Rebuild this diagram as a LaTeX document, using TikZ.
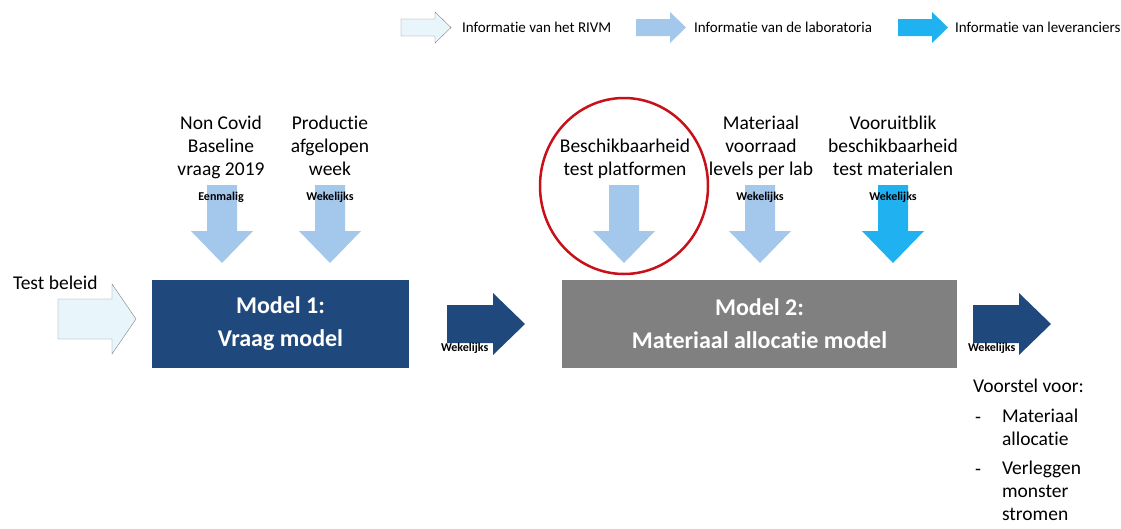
\documentclass[tikz,border=0pt]{standalone}
\usepackage{fontspec}
\setmainfont[Ligatures=NoCommon]{Carlito}
\usetikzlibrary{positioning}

\definecolor{vraagblue}{RGB}{31,73,125}
\definecolor{allocgray}{RGB}{128,128,128}
\definecolor{labblue}{RGB}{164,199,236}
\definecolor{levblue}{RGB}{32,178,240}
\definecolor{rivmfill}{RGB}{232,246,252}
\definecolor{ringred}{RGB}{200,16,24}

\tikzset{
  pics/downarrow/.style={code={
    \path[pic actions] (-15,0) -- (15,0) -- (15,46) -- (31,46) -- (0,78)
      -- (-31,46) -- (-15,46) -- cycle;
  }},
  pics/rightarrow/.style={code={
    \path[pic actions] (0,-19) -- (46,-19) -- (46,-31) -- (78,0) -- (46,31)
      -- (46,19) -- (0,19) -- cycle;
  }},
  pics/keyarrow/.style={code={
    \path[pic actions] (0,-8.5) -- (34,-8.5) -- (34,-15.5) -- (50,0) -- (34,15.5)
      -- (34,8.5) -- (0,8.5) -- cycle;
  }},
}

\begin{document}
\begin{tikzpicture}[x=1pt, y=-1pt
        , every node/.style={inner sep=0pt, outer sep=0pt}
        , bigtext/.style={font=\fontsize{19.5}{23}\selectfont, align=center}
        , freq/.style={font=\fontsize{12}{14}\selectfont\bfseries}
        , keytext/.style={font=\fontsize{15}{17}\selectfont, anchor=west}
        , model/.style={minimum height=88pt, text=white, align=center,
            font=\fontsize{24}{33}\selectfont\bfseries}
        ]

        \useasboundingbox (0,0) rectangle (1121,528);

        % legenda
        \pic[draw=gray, fill=rivmfill, thin] at (401,27.5) {keyarrow};
        \node[keytext] (keyrivm) at (462,27.5) {Informatie van het RIVM};
        \pic[fill=labblue] at (636,27.5) {keyarrow};
        \node[keytext] (keylab) at (694,27.5) {Informatie van de laboratoria};
        \pic[fill=levblue] at (898,27.5) {keyarrow};
        \node[keytext] (keylev) at (955,27.5) {Informatie van leveranciers};

        % inputs
        \node[bigtext, anchor=north] (baseline) at (221,116) {Non Covid\\Baseline\\vraag 2019};
        \node[bigtext, anchor=north] (productie) at (330,116) {Productie\\afgelopen\\week};
        \node[bigtext, anchor=north] (platform) at (625,139) {Beschikbaarheid\\test platformen};
        \node[bigtext, anchor=north] (voorraad) at (761,116) {Materiaal\\voorraad\\levels per lab};
        \node[bigtext, anchor=north] (vooruit) at (893,116) {Vooruitblik\\beschikbaarheid\\test materialen};

        \pic[fill=labblue] at (222,185) {downarrow};
        \pic[fill=labblue] at (330,185) {downarrow};
        \pic[fill=labblue] at (624,185) {downarrow};
        \pic[fill=labblue] at (760,185) {downarrow};
        \pic[fill=levblue] at (893,185) {downarrow};

        \node[freq] (eenmalig) at (221,197) {Eenmalig};
        \node[freq] (wekprod) at (330,197) {Wekelijks};
        \node[freq] (wekvoorraad) at (760,197) {Wekelijks};
        \node[freq] (wekvooruit) at (893,197) {Wekelijks};

        % the two models
        \node[model, fill=vraagblue, minimum width=257pt] (model1) at (280.5,324)
            {Model 1:\\Vraag model};
        \node[model, fill=allocgray, minimum width=395pt] (model2) at (759.5,324)
            {Model 2:\\Materiaal allocatie model};

        \node[bigtext, anchor=west] (beleid) at (13,283) {Test beleid};
        \draw[gray, fill=rivmfill, thin] (58,299) -- (112,299) -- (112,284) -- (136,319)
            -- (112,354) -- (112,339) -- (58,339) -- cycle;

        \pic[fill=vraagblue] at (447,324) {rightarrow};
        \node[freq, anchor=west] (wekmodel) at (441,348) {Wekelijks};
        \pic[fill=vraagblue] at (973,324) {rightarrow};
        \node[freq, anchor=west] (wekuit) at (968,348) {Wekelijks};

        % red ring round the platforms input
        \draw[ringred, line width=2.5pt] (624,186) ellipse [x radius=84pt, y radius=88pt];

        % output
        \node[bigtext, anchor=base west] (voorstel) at (973,392) {Voorstel voor:};
        \node[bigtext, anchor=base west] (dasha) at (975,423) {-};
        \node[bigtext, anchor=north west, align=left] (itema) at (1002,409)
            {Materiaal\\allocatie};
        \node[bigtext, anchor=base west] (dashb) at (975,475) {-};
        \node[bigtext, anchor=north west, align=left] (itemb) at (1002,461)
            {Verleggen\\monster\\stromen};

    \end{tikzpicture}
\end{document}
